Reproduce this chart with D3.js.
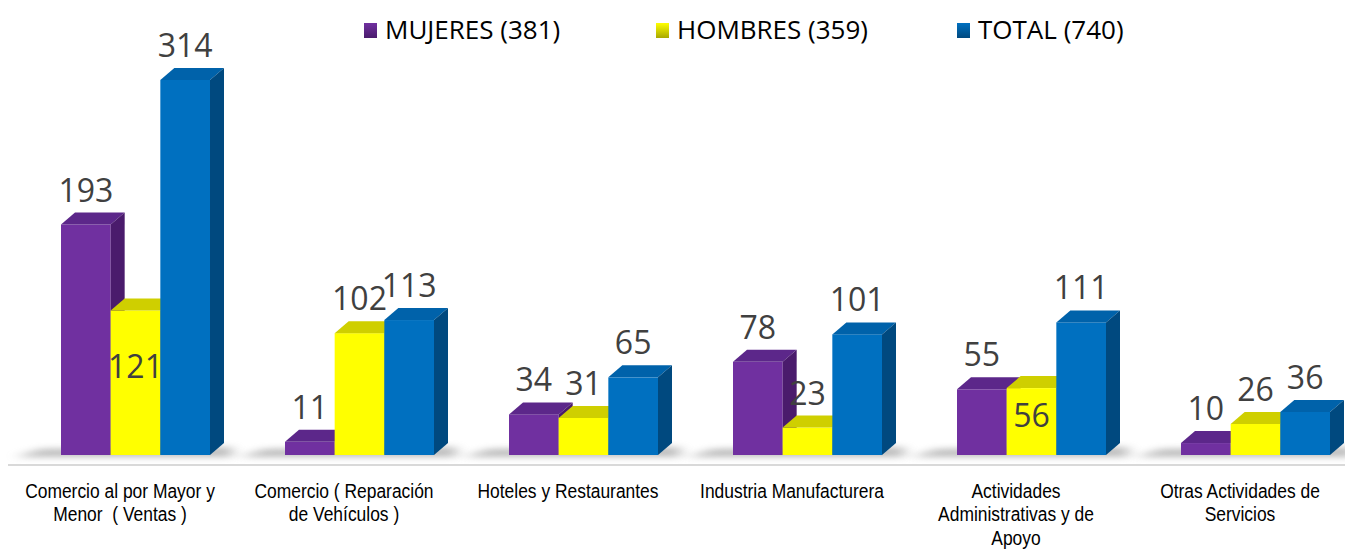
<!DOCTYPE html>
<html><head><meta charset="utf-8">
<script src="https://cdn.jsdelivr.net/npm/d3@7"></script>
<style>html,body{margin:0;padding:0;background:#fff;overflow:hidden} text{white-space:pre}</style>
</head><body>
<svg id="chart" width="1345" height="549"></svg>
<script>
const categories = [
  ["Comercio al por Mayor y", "Menor  ( Ventas )"],
  ["Comercio ( Reparación", "de Vehículos )"],
  ["Hoteles y Restaurantes"],
  ["Industria Manufacturera"],
  ["Actividades", "Administrativas y de", "Apoyo"],
  ["Otras Actividades de", "Servicios"]
];
const seriesNames = ["MUJERES (381)", "HOMBRES (359)", "TOTAL (740)"];
const mujeres = [193, 11, 34, 78, 55, 10];
const hombres = [121, 102, 31, 23, 56, 26];
const total   = [314, 113, 65, 101, 111, 36];
const seriesValues = [mujeres, hombres, total];

const colors = [
  {front:"#7030A0", top:"#5c278a", side:"#4a1b6c"},
  {front:"#FFFF00", top:"#cfcf00", side:"#a8a800"},
  {front:"#0070C0", top:"#0062aa", side:"#00497f"}
];

const svg = d3.select("#chart");
const W = 1345, H = 549;
const base = 455, DX = 14, DY = 12;

const catKeys = categories.map((c,i)=>"c"+i);
const x = d3.scaleBand().domain(catKeys).range([8, 1352]).padding(0);
const inner = d3.scaleBand().domain(d3.range(seriesNames.length)).range([53, 202]).padding(0);
const y = d3.scaleLinear().domain([0, 350]).range([base, 37]);

const defs = svg.append("defs");
const blur = defs.append("filter").attr("id","blur").attr("x","-50%").attr("y","-200%").attr("width","200%").attr("height","500%");
blur.append("feGaussianBlur").attr("stdDeviation","7 3");

// axis line
svg.append("line").attr("x1",8).attr("x2",W).attr("y1",465).attr("y2",465)
  .attr("stroke","#d9d9d9").attr("stroke-width",2);

// shadows
const g = svg.append("g");
catKeys.forEach((k,i)=>{
  const gx0 = x(k) + inner.range()[0], gx1 = x(k) + inner.range()[1];
  g.append("path")
    .attr("d", `M${gx0-45},${base+2} L${gx1+DX+8},${base+2} L${gx1+DX+8},${base-8} L${gx0-20},${base-6} Z`)
    .attr("fill","#7a7a7a").attr("opacity",0.5).attr("filter","url(#blur)");
});

// bars
catKeys.forEach((k,i)=>{
  seriesValues.forEach((vals,s)=>{
    const v = vals[i];
    const x0 = x(k) + inner(s), w = inner.bandwidth();
    const yt = y(v);
    const c = colors[s];
    const bg = g.append("g");
    bg.append("rect").attr("x",x0).attr("y",yt).attr("width",w).attr("height",base-yt).attr("fill",c.front);
    bg.append("path").attr("d",`M${x0},${yt} L${x0+w},${yt} L${x0+w+DX},${yt-DY} L${x0+DX},${yt-DY} Z`).attr("fill",c.top);
    bg.append("path").attr("d",`M${x0+w},${yt} L${x0+w+DX},${yt-DY} L${x0+w+DX},${base-DY} L${x0+w},${base} Z`).attr("fill",c.side);
  });
});

// value labels
const nudge = {"1-0": 91, "1-4": 62}; // labels Excel placed inside the bar
catKeys.forEach((k,i)=>{
  seriesValues.forEach((vals,s)=>{
    const v = vals[i];
    const xc = x(k) + inner(s) + inner.bandwidth()/2;
    const yb = y(v) - DY - 11 + (nudge[s+"-"+i]||0);
    svg.append("text").attr("x",xc).attr("y",yb).attr("text-anchor","middle")
      .attr("font-family","'Open Sans', sans-serif").attr("font-size",32)
      .attr("fill","#404040").text(v);
  });
});

// category labels (Arial Narrow look: Liberation Sans condensed horizontally)
catKeys.forEach((k,i)=>{
  const cx = x(k) + x.bandwidth()/2;
  const t = svg.append("g").attr("transform", `translate(${cx},0) scale(0.83,1)`);
  categories[i].forEach((line,j)=>{
    t.append("text").attr("x",0).attr("y",498 + j*23.5).attr("text-anchor","middle")
      .attr("font-family","'Liberation Sans', Arial, sans-serif")
      .attr("font-size",21).attr("fill","#000").text(line);
  });
});

// legend
const legendX = [364, 656, 957];
const lg = svg.append("g");
seriesNames.forEach((n,s)=>{
  const gr = defs.append("linearGradient").attr("id","lg"+s).attr("x1",0).attr("y1",0).attr("x2",0).attr("y2",1);
  gr.append("stop").attr("offset","0%").attr("stop-color",colors[s].front);
  gr.append("stop").attr("offset","100%").attr("stop-color",colors[s].side);
  lg.append("rect").attr("x",legendX[s]).attr("y",23).attr("width",13).attr("height",15).attr("fill","url(#lg"+s+")");
  lg.append("text").attr("x",legendX[s]+21).attr("y",39)
    .attr("font-family","'Open Sans', sans-serif").attr("font-size",26).attr("fill","#000").text(n);
});
</script>
</body></html>
